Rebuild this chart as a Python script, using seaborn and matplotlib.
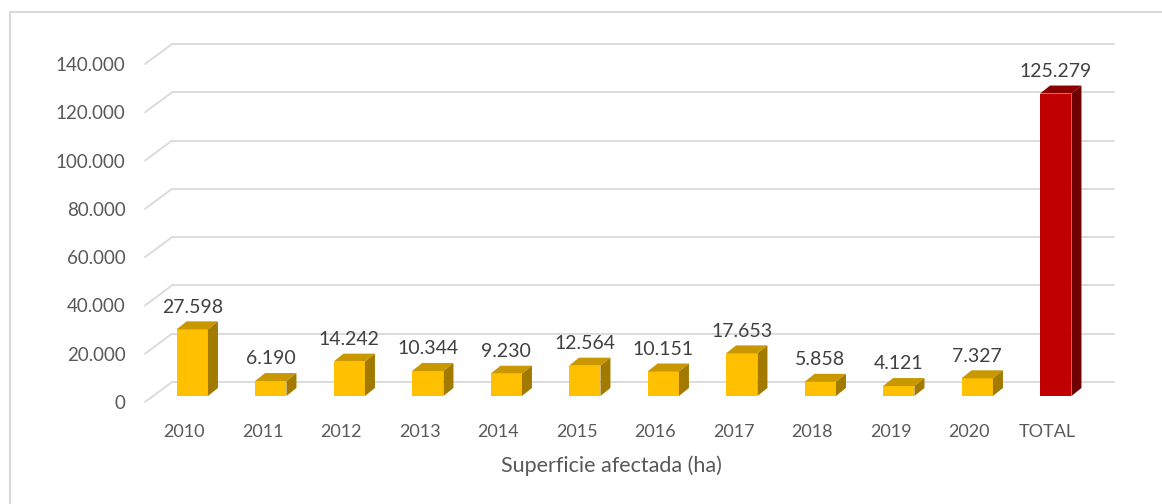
import seaborn as sns
import matplotlib.pyplot as plt
import matplotlib.transforms as mtransforms
from matplotlib.patches import Polygon, Rectangle
from matplotlib.ticker import FuncFormatter

# data
categories = ['2010', '2011', '2012', '2013', '2014', '2015', '2016',
              '2017', '2018', '2019', '2020', 'TOTAL']
superficie = [27598, 6190, 14242, 10344, 9230, 12564, 10151,
              17653, 5858, 4121, 7327, 125279]
y_ticks = [0, 20000, 40000, 60000, 80000, 100000, 120000, 140000]
x_title = 'Superficie afectada (ha)'

# colours: front / top / side of each bar
front_colors = ['#FFC000'] * 11 + ['#C00000']
top_colors = ['#C99700'] * 11 + ['#8A0000']
side_colors = ['#A27A00'] * 11 + ['#6E0000']

sns.set_style("white")
plt.rcParams['font.family'] = ['Lato', 'DejaVu Sans']

W, H = 1162, 504
fig = plt.figure(figsize=(W / 100, H / 100), dpi=100)
# axes box = front plane of the bars (pixels)
left, right, bottom, height = 153, 1095, 108, 338
ax = fig.add_axes([left / W, bottom / H, (right - left) / W, height / H])

sns.barplot(x=categories, y=superficie, hue=categories, palette=front_colors,
            legend=False, width=0.4, saturation=1, linewidth=0, ax=ax, zorder=3)

ax.set_xlim(-0.5, len(categories) - 0.5)
ax.set_ylim(0, 140000)
for s in ax.spines.values():
    s.set_visible(False)
ax.grid(False)

# 3D depth in pixels -> data units
px_x = (right - left) / len(categories)
px_y = height / 140000
bdx, bdy = 10 / px_x, 8 / px_y

for i, p in enumerate(ax.patches):
    x0, w, h = p.get_x(), p.get_width(), p.get_height()
    x1 = x0 + w
    top = Polygon([(x0, h), (x1, h), (x1 + bdx, h + bdy), (x0 + bdx, h + bdy)],
                  closed=True, facecolor=top_colors[i], edgecolor='none',
                  zorder=3, clip_on=False)
    side = Polygon([(x1, 0), (x1 + bdx, bdy), (x1 + bdx, h + bdy), (x1, h)],
                   closed=True, facecolor=side_colors[i], edgecolor='none',
                   zorder=3, clip_on=False)
    ax.add_patch(top)
    ax.add_patch(side)
    p.set_clip_on(False)

# gridlines on the back wall with a diagonal to the front plane
back = mtransforms.offset_copy(ax.transData, fig=fig, x=19, y=14, units='dots')
xmin, xmax = ax.get_xlim()
for yv in y_ticks:
    ax.plot([xmin, xmax], [yv, yv], color='#D9D9D9', lw=1.3,
            transform=back, zorder=1, clip_on=False)
    p0 = ax.transData.transform((xmin, yv))
    ax.plot([p0[0] - 8, p0[0] + 19], [p0[1] - 6, p0[1] + 14],
            color='#D9D9D9', lw=1.3, transform=None, zorder=1, clip_on=False)

# data labels
for i, v in enumerate(superficie):
    ax.annotate(f"{v:,}".replace(",", "."), (i, v), xytext=(0, 16),
                textcoords='offset points', ha='center', va='center',
                fontsize=14, color='#404040', zorder=5)

ax.set_yticks(y_ticks)
ax.yaxis.set_major_formatter(FuncFormatter(lambda v, pos: f"{int(v):,}".replace(",", ".")))
ax.tick_params(axis='y', length=0, pad=14, labelsize=13.5, labelcolor='#595959')
ax.tick_params(axis='x', length=0, pad=16, labelsize=13, labelcolor='#595959')
offset = mtransforms.ScaledTranslation(-8 / 100, -6 / 100, fig.dpi_scale_trans)
for lab in ax.get_xticklabels() + ax.get_yticklabels():
    lab.set_transform(lab.get_transform() + offset)

ax.set_xlabel(x_title, fontsize=15.5, color='#595959', va='center')
ax.xaxis.set_label_coords(0.487, -0.207)
ax.set_ylabel('')

# outer chart frame
fig.patches.append(Rectangle((10 / W, -0.1), 1.2, 0.976 + 0.1, fill=False,
                             edgecolor='#D9D9D9', lw=1.5,
                             transform=fig.transFigure))

fig.savefig('out.png', dpi=100)
